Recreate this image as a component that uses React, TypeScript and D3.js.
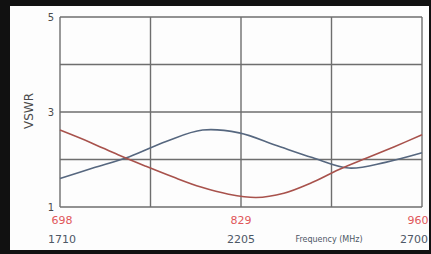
import * as d3 from "d3";

const redFreq = [698, 720, 740, 760, 780, 800, 820, 840, 860, 880, 900, 920, 940, 960];
const redVswr = [2.62, 2.36, 2.1, 1.86, 1.63, 1.42, 1.27, 1.2, 1.29, 1.51, 1.79, 2.03, 2.27, 2.52];

const blueFreq = [1710, 1800, 1900, 2000, 2100, 2200, 2300, 2400, 2500, 2600, 2700];
const blueVswr = [1.6, 1.82, 2.06, 2.38, 2.62, 2.56, 2.3, 2.04, 1.82, 1.94, 2.14];

const yTicks = [1, 2, 3, 4, 5];
const yLabels = [1, 3, 5];
const redTicks = [698, 829, 960];
const blueTicks = [1710, 2205, 2700];

const W = 431;
const H = 254;
const plot = { left: 60, right: 422, top: 17, bottom: 207 };

export default function App() {
  const xRed = d3.scaleLinear().domain([698, 960]).range([plot.left, plot.right]);
  const xBlue = d3.scaleLinear().domain([1710, 2700]).range([plot.left, plot.right]);
  const y = d3.scaleLinear().domain([1, 5]).range([plot.bottom, plot.top]);

  const redLine = d3
    .line<number>()
    .x((_, i) => xRed(redFreq[i]))
    .y((v) => y(v))
    .curve(d3.curveCatmullRom.alpha(0.5));

  const blueLine = d3
    .line<number>()
    .x((_, i) => xBlue(blueFreq[i]))
    .y((v) => y(v))
    .curve(d3.curveCatmullRom.alpha(0.5));

  const gridX = d3.range(5).map((i) => plot.left + ((plot.right - plot.left) * i) / 4);
  const font = "'DejaVu Sans', Arial, sans-serif";
  // nudge the end labels inward so they stay inside the frame
  const shift = [2, 0, -4];

  return (
    <svg
      width={W}
      height={H}
      style={{ position: "absolute", left: 0, top: 0 }}
      fontFamily={font}
    >
      <rect x={0} y={0} width={W} height={H} fill="#111" />
      <rect x={10} y={6} width={419} height={244} fill="#fdfdfd" />

      {yTicks.map((t) => (
        <line
          key={`gy${t}`}
          x1={plot.left}
          x2={plot.right}
          y1={y(t)}
          y2={y(t)}
          stroke="#6e6e6e"
          strokeWidth={1.4}
        />
      ))}
      {gridX.map((gx, i) => (
        <line
          key={`gx${i}`}
          x1={gx}
          x2={gx}
          y1={plot.top}
          y2={plot.bottom}
          stroke="#6e6e6e"
          strokeWidth={1.4}
        />
      ))}

      <path d={blueLine(blueVswr) ?? ""} fill="none" stroke="#56677f" strokeWidth={1.6} />
      <path d={redLine(redVswr) ?? ""} fill="none" stroke="#a8524c" strokeWidth={1.6} />

      {yLabels.map((t) => (
        <text
          key={`yl${t}`}
          x={51}
          y={y(t)}
          dy="0.35em"
          textAnchor="middle"
          fontSize={10}
          fill="#4a4a4a"
        >
          {t}
        </text>
      ))}

      <text
        transform={`translate(29,111) rotate(-90)`}
        textAnchor="middle"
        dy="0.35em"
        fontSize={12}
        fill="#4a4a4a"
      >
        VSWR
      </text>

      {redTicks.map((t, i) => (
        <text
          key={`rt${t}`}
          x={xRed(t) + shift[i]}
          y={220}
          dy="0.35em"
          textAnchor="middle"
          fontSize={11}
          fill="#e0575a"
        >
          {t}
        </text>
      ))}
      {blueTicks.map((t, i) => (
        <text
          key={`bt${t}`}
          x={i === 2 ? 428 : xBlue(t) + shift[i]}
          y={239}
          dy="0.35em"
          textAnchor={i === 2 ? "end" : "middle"}
          fontSize={11}
          fill="#4d5866"
        >
          {t}
        </text>
      ))}
      <text x={329} y={239} dy="0.35em" textAnchor="middle" fontSize={8} fill="#4d5866">
        Frequency (MHz)
      </text>
    </svg>
  );
}
